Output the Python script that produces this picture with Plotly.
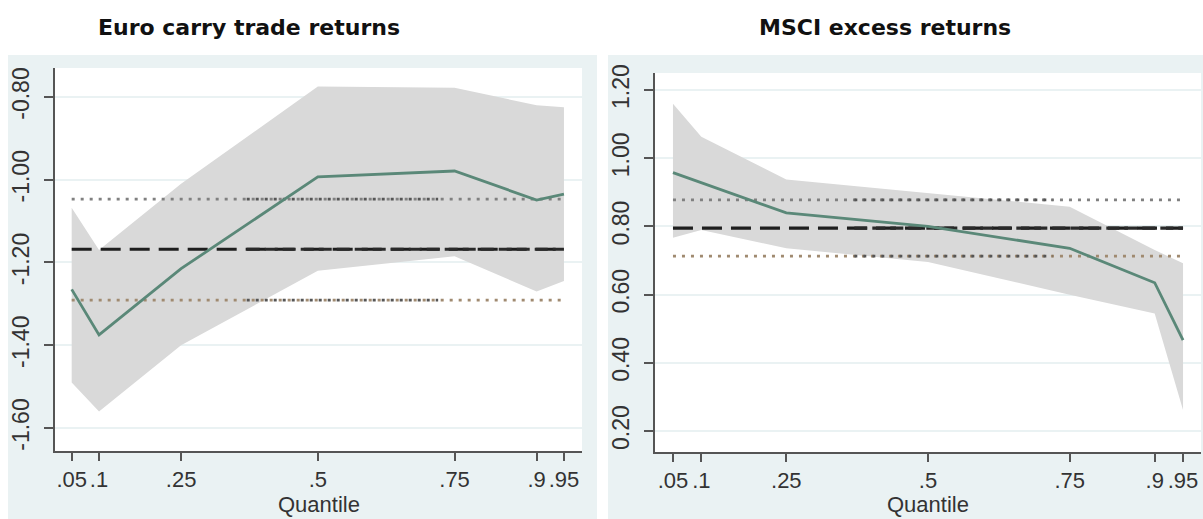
import plotly.graph_objects as go

# ---------------- data ----------------
quantiles = [0.05, 0.10, 0.25, 0.50, 0.75, 0.90, 0.95]
x_tick_text = [".05", ".1", ".25", ".5", ".75", ".9", ".95"]

# Euro carry trade returns
euro_coef = [-1.265, -1.375, -1.215, -0.993, -0.979, -1.049, -1.035]
euro_upper = [-1.068, -1.170, -1.010, -0.775, -0.778, -0.820, -0.825]
euro_lower = [-1.490, -1.560, -1.400, -1.220, -1.185, -1.270, -1.245]
euro_ols = [-1.168]
euro_ols_upper = [-1.047]
euro_ols_lower = [-1.291]
euro_yticks = [-1.6, -1.4, -1.2, -1.0, -0.8]
euro_ytick_text = ["-1.60", "-1.40", "-1.20", "-1.00", "-0.80"]

# MSCI excess returns
msci_coef = [0.958, 0.928, 0.840, 0.800, 0.736, 0.635, 0.467]
msci_upper = [1.160, 1.063, 0.938, 0.897, 0.858, 0.731, 0.692]
msci_lower = [0.767, 0.790, 0.736, 0.696, 0.600, 0.545, 0.262]
msci_ols = [0.795]
msci_ols_upper = [0.878]
msci_ols_lower = [0.713]
msci_yticks = [0.2, 0.4, 0.6, 0.8, 1.0, 1.2]
msci_ytick_text = ["0.20", "0.40", "0.60", "0.80", "1.00", "1.20"]

titles = ["Euro carry trade returns", "MSCI excess returns"]
x_title = "Quantile"

# ---------------- styling ----------------
W, H = 1203, 519
BG = "#EAF2F3"
GREEN = "#5A8878"
CI_GRAY = "#D9D9D9"
AXIS = "#555555"
TXT = "#333333"
FONT = "Liberation Sans"

panels = [
    dict(xa="x", ya="y", coef=euro_coef, up=euro_upper, lo=euro_lower,
         ols=euro_ols[0], olsu=euro_ols_upper[0], olsl=euro_ols_lower[0],
         plot=(55, 582, 68, 451), bg=(8, 597), xr=(0.0195, 0.983),
         yr=(-1.6556, -0.730), yt=euro_yticks, ytt=euro_ytick_text,
         title=titles[0], tx=249),
    dict(xa="x2", ya="y2", coef=msci_coef, up=msci_upper, lo=msci_lower,
         ols=msci_ols[0], olsu=msci_ols_upper[0], olsl=msci_ols_lower[0],
         plot=(655, 1201, 73, 452), bg=(608, 1203), xr=(0.0183, 0.9817),
         yr=(0.1387, 1.250), yt=msci_yticks, ytt=msci_ytick_text,
         title=titles[1], tx=885),
]

fig = go.Figure()
shapes = []
annotations = []
layout_axes = {}

q0, q1 = quantiles[0], quantiles[-1]
q_dense = 0.37

for i, p in enumerate(panels):
    xa, ya = p["xa"], p["ya"]
    # CI band
    fig.add_trace(go.Scatter(
        x=quantiles + quantiles[::-1], y=p["up"] + p["lo"][::-1],
        fill="toself", fillcolor=CI_GRAY, line=dict(width=0, color=CI_GRAY),
        mode="lines", xaxis=xa, yaxis=ya, hoverinfo="skip", showlegend=False))
    # OLS CI dotted lines
    for val, col in ((p["olsu"], "#808080"), (p["olsl"], "#A08A70")):
        fig.add_trace(go.Scatter(x=[q0, q1], y=[val, val], mode="lines",
                                 line=dict(color=col, width=2.6, dash="3px,6px"),
                                 xaxis=xa, yaxis=ya, showlegend=False))
        fig.add_trace(go.Scatter(x=[q_dense, 0.72], y=[val, val], mode="lines",
                                 line=dict(color="#555555", width=2.6, dash="3px,6px"),
                                 xaxis=xa, yaxis=ya, showlegend=False))
    # OLS dashed line
    fig.add_trace(go.Scatter(x=[q0, q1], y=[p["ols"], p["ols"]], mode="lines",
                             line=dict(color="#1E1E1E", width=3.2, dash="20px,9px"),
                             xaxis=xa, yaxis=ya, showlegend=False))
    fig.add_trace(go.Scatter(x=[q_dense, q1], y=[p["ols"], p["ols"]], mode="lines",
                             line=dict(color="#2A2A2A", width=3.2, dash="13px,5px"),
                             xaxis=xa, yaxis=ya, showlegend=False))
    # Quantile coefficient line
    fig.add_trace(go.Scatter(x=quantiles, y=p["coef"], mode="lines",
                             line=dict(color=GREEN, width=2.8),
                             xaxis=xa, yaxis=ya, showlegend=False))

    x0, x1, y0, y1 = p["plot"]
    bx0, bx1 = p["bg"]
    shapes.append(dict(type="rect", xref="paper", yref="paper", layer="below",
                       x0=bx0 / W, x1=bx1 / W, y0=0, y1=1 - 55 / H,
                       fillcolor=BG, line=dict(width=0)))
    shapes.append(dict(type="rect", xref="paper", yref="paper", layer="below",
                       x0=x0 / W, x1=x1 / W, y0=1 - y1 / H, y1=1 - y0 / H,
                       fillcolor="white", line=dict(width=0)))

    sfx = "" if i == 0 else "2"
    layout_axes["xaxis" + sfx] = dict(
        domain=[x0 / W, x1 / W], range=list(p["xr"]), anchor=ya,
        tickmode="array", tickvals=quantiles, ticktext=x_tick_text, tickangle=0,
        ticks="outside", ticklen=8, tickwidth=2, tickcolor=AXIS,
        showline=True, linecolor=AXIS, linewidth=2, showgrid=False, zeroline=False,
        tickfont=dict(family=FONT, size=22, color=TXT), ticklabelstandoff=0,
        automargin=False, fixedrange=True)
    layout_axes["yaxis" + sfx] = dict(
        domain=[1 - y1 / H, 1 - y0 / H], range=list(p["yr"]), anchor=xa,
        tickmode="array", tickvals=p["yt"], ticktext=p["ytt"], tickangle=-90,
        ticks="outside", ticklen=9, tickwidth=2, tickcolor=AXIS,
        showline=True, linecolor=AXIS, linewidth=2,
        showgrid=True, gridcolor=BG, gridwidth=1.5, zeroline=False,
        tickfont=dict(family=FONT, size=23, color=TXT), ticklabelstandoff=6,
        automargin=False, fixedrange=True)

    annotations.append(dict(text="<b>%s</b>" % p["title"], xref="paper", yref="paper",
                            x=p["tx"] / W, y=1 - 27.5 / H, xanchor="center", yanchor="middle",
                            showarrow=False,
                            font=dict(family="DejaVu Sans", size=22, color="#111111")))
    annotations.append(dict(text=x_title, xref="paper", yref="paper",
                            x=(x0 + x1) / 2 / W, y=0, xanchor="center", yanchor="bottom",
                            yshift=0, showarrow=False,
                            font=dict(family=FONT, size=22, color=TXT)))

fig.update_layout(
    width=W, height=H, margin=dict(l=0, r=0, t=0, b=0, autoexpand=False),
    paper_bgcolor="white", plot_bgcolor="rgba(0,0,0,0)",
    shapes=shapes, annotations=annotations, showlegend=False,
    **layout_axes)

fig.write_html("out.html", config={"displayModeBar": False},
               post_script="document.body.style.margin='0px';document.body.style.overflow='hidden';")
